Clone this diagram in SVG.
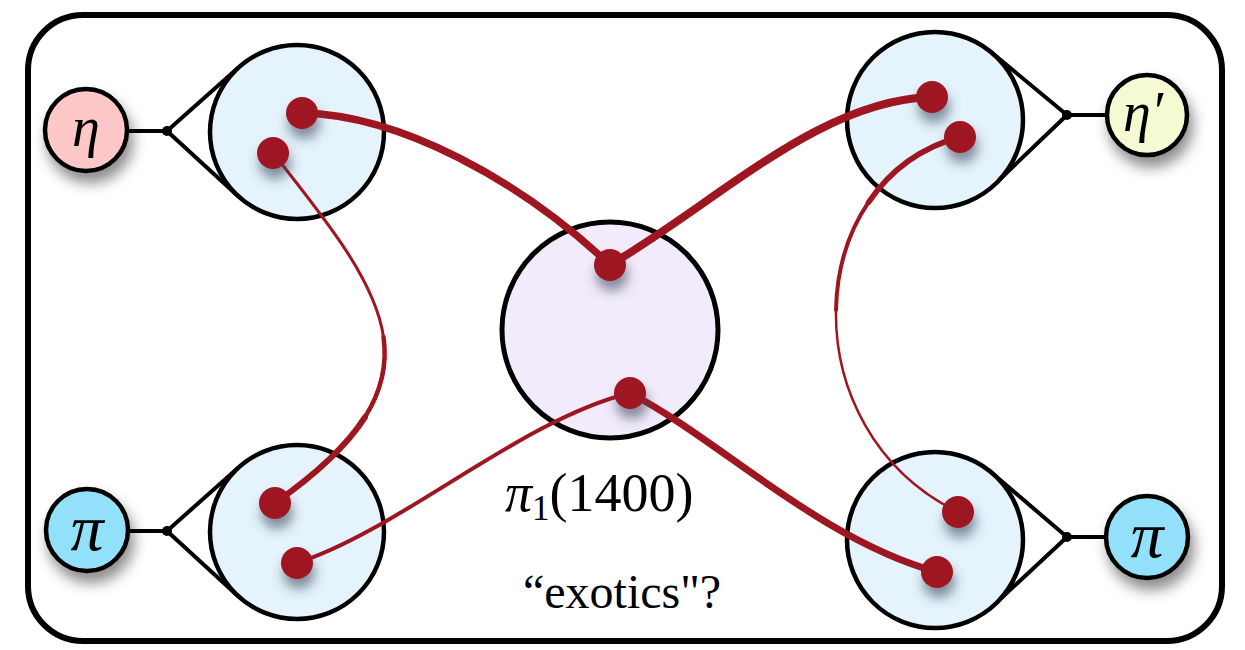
<svg xmlns="http://www.w3.org/2000/svg" width="1245" height="650" viewBox="0 0 1245 650">
<defs>
<filter id="sh" x="-50%" y="-50%" width="200%" height="200%">
<feDropShadow dx="4" dy="10" stdDeviation="7" flood-color="#000" flood-opacity="0.45"/>
</filter>
<filter id="dsh" x="-100%" y="-100%" width="300%" height="300%">
<feDropShadow dx="2" dy="10" stdDeviation="6" flood-color="#3a4a5a" flood-opacity="0.6"/>
</filter>
<style>
.frame{fill:#fff;stroke:#000;stroke-width:6}
.big{fill:#e5f3fc;stroke:#000;stroke-width:4.5}
.mid{fill:#f2ebfc;stroke:#000;stroke-width:5}
.sm{stroke:#000;stroke-width:4.5}
.leg{fill:none;stroke:#000;stroke-width:4;stroke-linejoin:round}
.dot{fill:#9e1620;filter:url(#dsh)}
.q{fill:none;stroke:#9e1620;stroke-linecap:round}
.lbl{font-family:"Liberation Serif",serif;fill:#000}
.sym{font-family:"Liberation Serif",serif;font-style:italic;fill:#000;text-anchor:middle}
</style>
</defs>
<rect class="frame" x="28" y="15" width="1194" height="626" rx="55" ry="55"/>

<g id="meson-eta">
<path class="leg" d="M128,131 L167,131 L239,67 M167,131 L239,197"/>
<circle cx="167" cy="131" r="5"/>
<circle class="sm" cx="86" cy="130" r="41" fill="#ffc8c8" filter="url(#sh)"/>
<text class="sym" x="86" y="146" font-size="56">η</text>
</g>
<g id="meson-pi-left">
<path class="leg" d="M128,531 L167,531 L239,467 M167,531 L239,597"/>
<circle cx="167" cy="531" r="5"/>
<circle class="sm" cx="87" cy="530" r="41" fill="#92e0fa" filter="url(#sh)"/>
<text class="sym" x="87" y="550" font-size="66" font-style="normal">π</text>
</g>
<g id="meson-etaprime">
<path class="leg" d="M1107,115 L1067,115 L991,52 M1067,115 L996,183"/>
<circle cx="1067" cy="115" r="5"/>
<circle class="sm" cx="1147" cy="115" r="40" fill="#f5fad2" filter="url(#sh)"/>
<text class="sym" x="1143" y="131" font-size="56">η′</text>
</g>
<g id="meson-pi-right">
<path class="leg" d="M1107,537 L1067,537 L992,473 M1067,537 L995,604"/>
<circle cx="1067" cy="537" r="5"/>
<circle class="sm" cx="1147" cy="537" r="41" fill="#92e0fa" filter="url(#sh)"/>
<text class="sym" x="1147" y="557" font-size="66" font-style="normal">π</text>
</g>

<g id="blob-tl"><circle class="big" cx="297" cy="132" r="87"/></g>
<g id="blob-bl"><circle class="big" cx="297" cy="532" r="87"/></g>
<g id="blob-tr"><circle class="big" cx="935" cy="120" r="88"/></g>
<g id="blob-br"><circle class="big" cx="935" cy="540" r="88"/></g>
<g id="pi1"><circle class="mid" cx="610" cy="330" r="108"/></g>

<g id="connectors">
<path class="q" stroke-width="7.5" d="M302,113 C400,115 520,180 610,265"/>
<path class="q" stroke-width="8" d="M610,265 C720,200 820,100 932,97"/>
<path class="q" stroke-width="3" d="M273,153 C390,300 450,380 275,503"/>
<path class="q" stroke-width="4.5" d="M383.5,337 C391.25,390.75 362.5,441.5 275,503"/>
<path class="q" stroke-width="6" d="M365,417.1 C347.8,444.2 318.75,472.25 275,503"/>
<path class="q" stroke-width="4" d="M297,563 C400,530 520,420 630,393"/>
<path class="q" stroke-width="7" d="M630,393 C720,440 820,540 937,572"/>
<path class="q" stroke-width="2.5" d="M960,137 C800,180 790,430 958,512"/>
<path class="q" stroke-width="4" d="M960,137 C880,158.5 837.5,231.75 836,309.9"/>
<path class="q" stroke-width="5.5" d="M960,137 C920,147.75 889.4,171.4 868.6,202.2"/>
</g>

<g id="dots">
<circle class="dot" cx="302" cy="113" r="16"/>
<circle class="dot" cx="273" cy="153" r="16"/>
<circle class="dot" cx="275" cy="503" r="16"/>
<circle class="dot" cx="297" cy="563" r="16"/>
<circle class="dot" cx="932" cy="97" r="16"/>
<circle class="dot" cx="960" cy="137" r="16"/>
<circle class="dot" cx="958" cy="512" r="16"/>
<circle class="dot" cx="937" cy="572" r="16"/>
<circle class="dot" cx="610" cy="265" r="16"/>
<circle class="dot" cx="630" cy="393" r="16"/>
</g>

<g id="labels">
<text class="lbl" x="505" y="511" font-size="54"><tspan font-style="italic">π</tspan><tspan font-size="35" dy="9">1</tspan><tspan dy="-9">(1400)</tspan></text>
<text class="lbl" x="523" y="608" font-size="48">“exotics"?</text>
</g>
</svg>
